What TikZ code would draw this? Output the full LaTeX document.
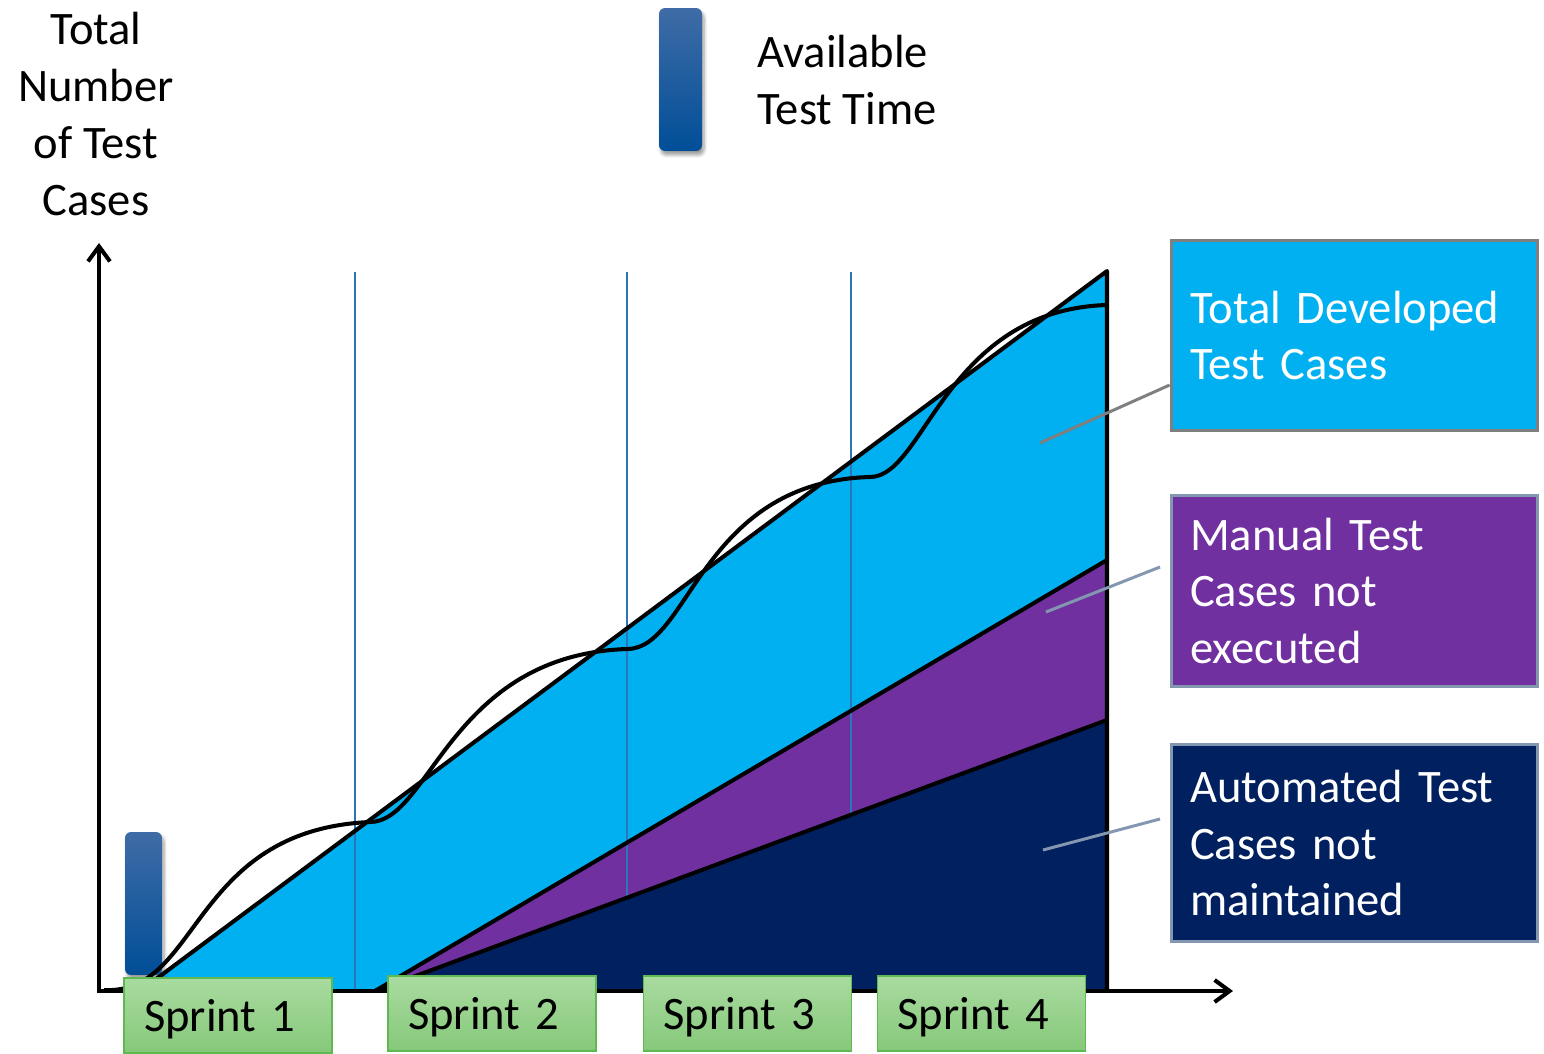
\documentclass[tikz,border=0pt]{standalone}
\usepackage{fontspec}
\setmainfont{Carlito}
\usetikzlibrary{arrows.meta,shadows.blur}
\definecolor{devcyan}{HTML}{00B0F0}
\definecolor{manpurple}{HTML}{7030A0}
\definecolor{autonavy}{HTML}{002060}
\definecolor{gridblue}{HTML}{2E75B6}
\definecolor{bartop}{HTML}{3F6CA6}
\definecolor{barbot}{HTML}{004E98}
\definecolor{sprtop}{HTML}{A9DBA0}
\definecolor{sprbot}{HTML}{86C87A}
\definecolor{sprline}{HTML}{5EB951}
\definecolor{calloutgray}{HTML}{7F7F7F}
\definecolor{calloutblue}{HTML}{8497B0}
\newcommand{\bigfont}{\fontsize{26.5}{32.4}\selectfont}

\begin{document}
\begin{tikzpicture}[x=0.02cm,y=-0.02cm,
    boundary/.style={line width=2.3pt, line join=round},
    timebar/.style={rounded corners=0.12cm, top color=bartop, bottom color=barbot, draw=none,
        blur shadow={shadow xshift=0.04cm, shadow yshift=-0.08cm, shadow blur steps=6, shadow opacity=40}},
    sprintbox/.style={draw=sprline, line width=0.8pt, top color=sprtop, bottom color=sprbot,
        minimum width=4.16cm, minimum height=1.5cm, text width=3.36cm, inner xsep=0.4cm, text depth=0pt,
        align=left, font=\bigfont},
    legbox/.style={line width=1.7pt, minimum width=7.34cm, text width=6.58cm, inner xsep=0.38cm,
        align=left, text=white, font=\bigfont},
    pointer/.style={line width=1.7pt}]
    \useasboundingbox (0,0) rectangle (1544,1054);
    %Chart corners
    \coordinate (o) at (99,991);
    \coordinate (ytip) at (99,243);
    \coordinate (xtip) at (1233,991);
    \coordinate (t0) at (140,991);
    \coordinate (t1) at (1107,271);
    \coordinate (m0) at (375,991);
    \coordinate (m1) at (1107,560);
    \coordinate (a1) at (1107,720);
    \coordinate (e) at (1107,991);
    %Areas
    \fill[devcyan] (t0) -- (t1) -- (e) -- cycle;
    \fill[manpurple] (m0) -- (m1) -- (a1) -- cycle;
    %Sprint borders
    \foreach \x/\n in {355/1,627/2,851/3}{
        \coordinate (g\n) at (\x,272);
        \draw[gridblue, line width=0.8pt] (g\n) -- (\x,991);
    }
    \fill[autonavy] (m0) -- (a1) -- (e) -- cycle;
    %Small test time bar
    \node[timebar, minimum width=0.74cm, minimum height=2.86cm] (smallbar) at (143.5,903.5) {};
    %Lines
    \draw[boundary] (t0) -- (t1) -- (e);
    \draw[boundary] (m0) -- (m1);
    \draw[boundary] (m0) -- (a1);
    %Developed curve
    \coordinate (c0) at (104,990);
    \coordinate (c1) at (370,822);
    \coordinate (c2) at (627,649);
    \coordinate (c3) at (870,477);
    \coordinate (c4) at (1107,305);
    \draw[boundary] (c0) .. controls (200,995) and (190,830) .. (c1)
        .. controls (430,822) and (450,655) .. (c2)
        .. controls (690,649) and (700,482) .. (c3)
        .. controls (925,477) and (945,310) .. (c4);
    %Axes
    \draw[line width=2.3pt, {Straight Barb[length=0.3cm, width=0.44cm]}-{Straight Barb[length=0.3cm, width=0.44cm]}] (ytip) -- (o) -- (xtip);
    \node[font=\bigfont, align=center] (ylabel) at (96,114) {Total\\Number\\of Test\\Cases};
    %Legend
    \node[timebar, minimum width=0.86cm, minimum height=2.86cm] (bigbar) at (680.5,79.5) {};
    \node[font=\bigfont, align=left, anchor=west, inner sep=0pt] (avail) at (757,80) {Available\\Test Time};
    %Sprints
    \node[sprintbox] (s1) at (228,1015.5) {Sprint 1};
    \node[sprintbox] (s2) at (492,1013.5) {Sprint 2};
    \node[sprintbox] (s3) at (747.5,1013.5) {Sprint 3};
    \node[sprintbox] (s4) at (981.5,1013.5) {Sprint 4};
    %Callouts
    \node[legbox, draw=calloutgray, fill=devcyan, minimum height=3.82cm] (total) at (1354.5,335.5) {Total Developed\\Test Cases};
    \node[legbox, draw=calloutblue, fill=manpurple, minimum height=3.84cm] (manual) at (1354.5,591) {Manual Test\\Cases not\\executed};
    \node[legbox, draw=calloutblue, fill=autonavy, minimum height=3.96cm] (auto) at (1354.5,843) {Automated Test\\Cases not\\maintained};
    \coordinate (totalpt) at (1040,443);
    \coordinate (manualpt) at (1046,612);
    \coordinate (manualend) at (1160,567);
    \coordinate (autopt) at (1043,850);
    \coordinate (autoend) at (1160,819);
    \draw[pointer, calloutgray] (totalpt) -- (total.195);
    \draw[pointer, calloutblue] (manualpt) -- (manualend);
    \draw[pointer, calloutblue] (autopt) -- (autoend);
\end{tikzpicture}
\end{document}
